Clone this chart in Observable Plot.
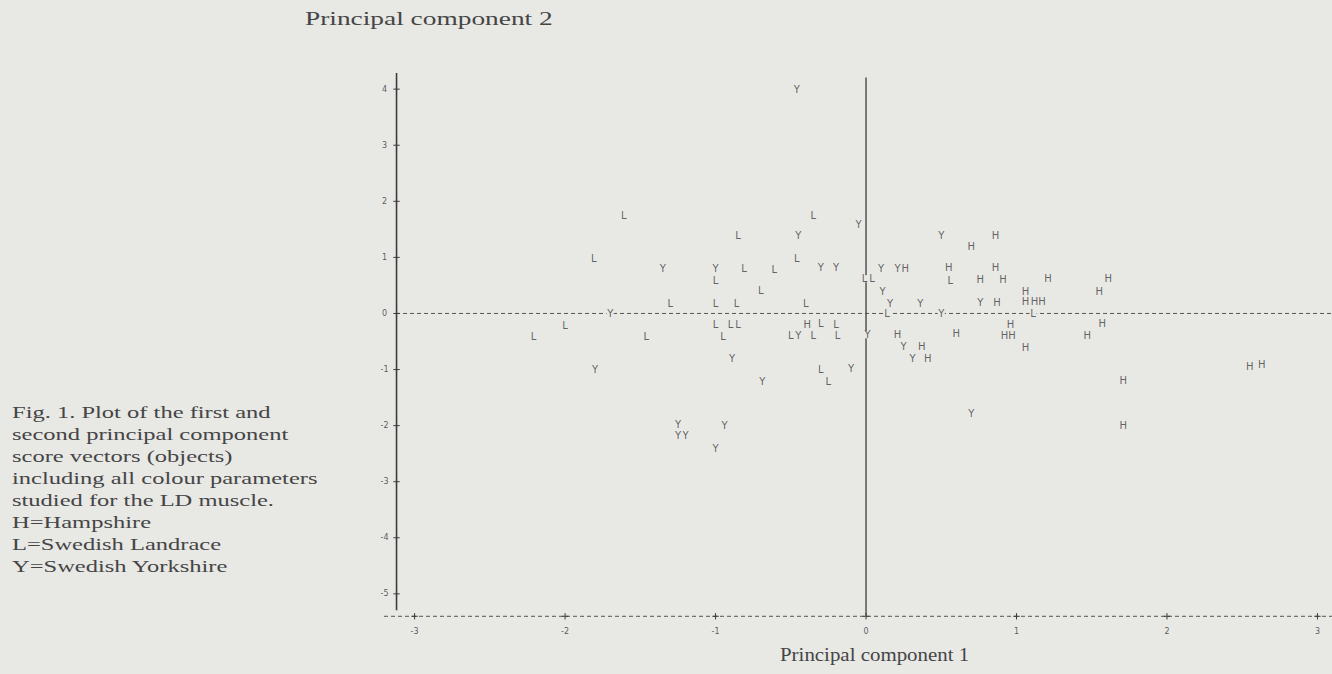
<!DOCTYPE html>
<html><head><meta charset="utf-8">
<script src="https://cdn.jsdelivr.net/npm/d3@7"></script>
<script src="https://cdn.jsdelivr.net/npm/@observablehq/plot@0.6"></script>
<style>
html,body{margin:0;padding:0}
body{background:#e8e8e5;width:1332px;height:674px;overflow:hidden;position:relative;font-family:"Liberation Serif","DejaVu Serif",serif;color:#454545}
#chart{position:absolute;left:0;top:0}
.t{position:absolute;white-space:nowrap;transform-origin:0 0}
</style></head><body>
<div id="chart"></div>
<div class="t" id="ytitle" style="left:305px;top:8px;font-size:19px;transform:scaleX(1.44)"></div>
<div class="t" id="xtitle" style="left:780px;top:644px;font-size:19px;transform:scaleX(1.1)"></div>
<div class="t" id="caption" style="left:12px;top:401px;font-size:17.5px;line-height:22px;transform:scaleX(1.4)"></div>
<script>
// Scores: [PC1, PC2]
const hampshire = [
  [0.86,1.39],[0.70,1.19],[0.26,0.80],[0.55,0.81],[0.86,0.82],[0.76,0.60],[0.91,0.60],
  [1.21,0.61],[1.61,0.62],[1.06,0.39],[1.55,0.39],[0.87,0.19],[1.06,0.20],[1.12,0.20],
  [1.17,0.20],[-0.39,-0.20],[0.96,-0.20],[1.57,-0.18],[0.21,-0.38],[0.60,-0.37],
  [0.92,-0.40],[0.97,-0.40],[1.47,-0.40],[0.37,-0.59],[1.06,-0.61],[0.41,-0.80],
  [2.55,-0.95],[2.63,-0.92],[1.71,-1.20],[1.71,-2.00]
];
const landrace = [
  [-0.35,1.75],[-1.61,1.75],[-0.85,1.38],[-1.81,0.98],[-0.46,0.98],[-0.81,0.79],
  [-0.61,0.78],[-1.00,0.59],[-0.01,0.62],[0.04,0.62],[0.56,0.59],[-0.70,0.40],
  [-1.30,0.17],[-1.00,0.18],[-0.86,0.18],[-0.40,0.18],[0.14,0.00],[1.11,0.00],
  [-2.00,-0.22],[-1.00,-0.21],[-0.90,-0.21],[-0.85,-0.21],[-0.30,-0.19],[-0.20,-0.21],
  [-2.21,-0.42],[-1.46,-0.42],[-0.95,-0.41],[-0.50,-0.40],[-0.35,-0.39],[-0.19,-0.39],
  [-0.30,-1.00],[-0.25,-1.21]
];
const yorkshire = [
  [-0.46,3.98],[-0.05,1.58],[0.50,1.38],[-0.45,1.39],[-1.35,0.80],[-1.00,0.79],
  [-0.30,0.81],[-0.20,0.81],[0.10,0.80],[0.21,0.80],[0.11,0.39],[0.16,0.17],
  [0.36,0.18],[0.76,0.19],[-1.70,0.00],[0.50,0.00],[-0.45,-0.40],[0.01,-0.38],
  [0.25,-0.59],[-0.89,-0.80],[0.31,-0.81],[-1.80,-1.00],[-0.10,-0.99],[-0.69,-1.21],
  [0.70,-1.79],[-1.25,-1.99],[-0.94,-2.00],[-1.25,-2.18],[-1.20,-2.18],[-1.00,-2.41]
];
const groupCodes = ["H","L","Y"];
const yTicks = [4,3,2,1,0,-1,-2,-3,-4,-5];
const yTickLabels = ["4","3","2","1","0","-1","-2","-3","-4","-5"];
const xTicks = [-3,-2,-1,0,1,2,3];
const xTickLabels = ["-3","-2","-1","0","1","2","3"];
const yTitle = "Principal component 2";
const xTitle = "Principal component 1";
const captionLines = [
  "Fig. 1. Plot of the first and",
  "second principal component",
  "score vectors (objects)",
  "including all colour parameters",
  "studied for the LD muscle.",
  "H=Hampshire",
  "L=Swedish Landrace",
  "Y=Swedish Yorkshire"
];

const points = [
  ...hampshire.map(([x,y]) => ({x, y, g: groupCodes[0]})),
  ...landrace.map(([x,y]) => ({x, y, g: groupCodes[1]})),
  ...yorkshire.map(([x,y]) => ({x, y, g: groupCodes[2]}))
];
const yTickRows = yTicks.map((v,i) => ({v, label: yTickLabels[i]}));
const xTickRows = xTicks.map((v,i) => ({v, label: xTickLabels[i]}));

const axisLeft = -3.12, axisBottom = -5.4, axisTop = 4.28, xEnd = 3.1;
const bg = "#e8e8e5";

const chart = Plot.plot({
  width: 1332, height: 674,
  marginLeft: 384, marginRight: 0, marginTop: 55, marginBottom: 47,
  x: {domain: [-3.2, 3.1], axis: null},
  y: {domain: [-5.6, 4.6], axis: null},
  style: {background: bg, overflow: "visible"},
  marks: [
    Plot.ruleY([0], {x1: axisLeft, x2: xEnd, stroke: "#555", strokeWidth: 1, strokeDasharray: "4,3"}),
    Plot.ruleY([axisBottom], {x1: -3.2, x2: xEnd, stroke: "#555", strokeWidth: 1, strokeDasharray: "4,3"}),
    Plot.ruleX([axisLeft], {y1: -5.3, y2: axisTop, stroke: "#3c3c3c", strokeWidth: 1.6}),
    Plot.ruleX([0], {y1: axisBottom, y2: 4.2, stroke: "#3c3c3c", strokeWidth: 1.3}),
    Plot.dot(yTickRows, {x: () => axisLeft, y: "v", symbol: "plus", r: 2.2, stroke: "#3c3c3c", strokeWidth: 1}),
    Plot.dot(xTickRows, {x: "v", y: () => axisBottom, symbol: "plus", r: 2.2, stroke: "#3c3c3c", strokeWidth: 1}),
    Plot.text(yTickRows, {x: () => axisLeft, y: "v", text: "label", dx: -12, fontSize: 8, fill: "#555", fillOpacity: 0.98, fontFamily: "DejaVu Sans"}),
    Plot.text(xTickRows, {x: "v", y: () => axisBottom, text: "label", dy: 15, fontSize: 8, fill: "#555", fillOpacity: 0.98, fontFamily: "DejaVu Sans"}),
    Plot.dot(points, {x: "x", y: "y", symbol: "square", r: 4, fill: bg, stroke: "none"}),
    Plot.text(points, {x: "x", y: "y", text: "g", fontSize: 10, fill: "#606060", fillOpacity: 0.98, fontFamily: "DejaVu Sans"})
  ]
});
document.getElementById("chart").appendChild(chart);
document.getElementById("ytitle").textContent = yTitle;
document.getElementById("xtitle").textContent = xTitle;
document.getElementById("caption").innerHTML = captionLines.join("<br>");
</script>
</body></html>
